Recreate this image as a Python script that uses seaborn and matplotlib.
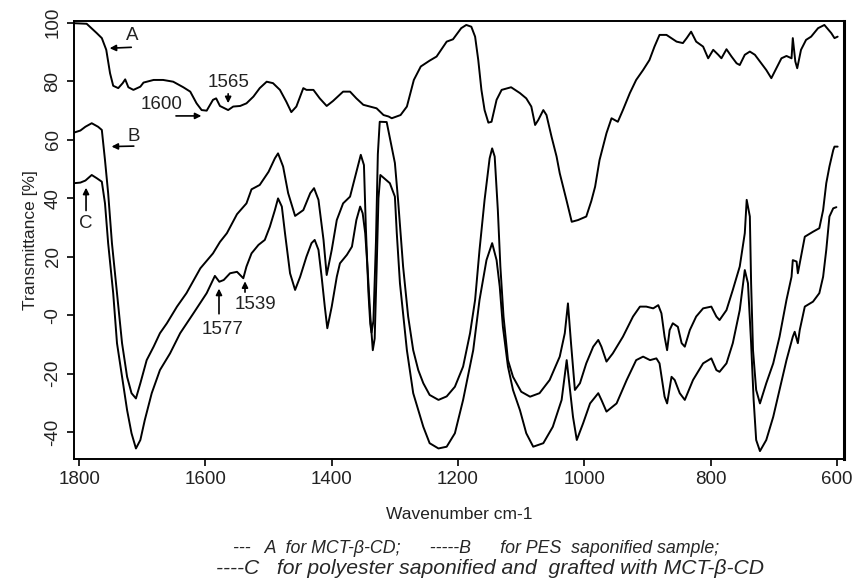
import matplotlib
matplotlib.use("Agg")
import matplotlib.pyplot as plt
from matplotlib import font_manager
import pandas as pd
import seaborn as sns

# --- spectrum A (MCT-beta-CD) ---
a_wn = [1808, 1788, 1772, 1764, 1757, 1751, 1746, 1738, 1731, 1727, 1722, 1714,
        1703, 1698, 1682, 1667, 1651, 1635, 1624, 1614, 1606, 1598, 1588, 1583,
        1577, 1564, 1556, 1545, 1535, 1524, 1514, 1503, 1493, 1482, 1472, 1464,
        1456, 1445, 1440, 1429, 1419, 1408, 1398, 1382, 1371, 1361, 1350, 1329,
        1318, 1310, 1305, 1291, 1281, 1270, 1259, 1245, 1234, 1218, 1208, 1195,
        1187, 1179, 1173, 1168, 1163, 1158, 1152, 1147, 1139, 1131, 1116, 1102,
        1092, 1084, 1078, 1073, 1065, 1060, 1052, 1044, 1039, 1028, 1020, 1010,
        997, 989, 983, 976, 965, 957, 947, 939, 928, 918, 907, 897, 889, 881,
        870, 854, 844, 838, 831, 823, 812, 804, 796, 788, 783, 775, 767, 759,
        754, 746, 738, 730, 722, 712, 704, 696, 688, 680, 672, 670, 666, 663,
        657, 649, 641, 630, 620, 609, 604, 599]
a_tr = [99.8, 99.6, 96.4, 94.7, 90.7, 82.7, 78.4, 77.6, 79.3, 80.6, 77.9, 77.0,
        78.1, 79.5, 80.4, 80.4, 79.8, 77.9, 76.4, 72.4, 70.1, 69.9, 73.6, 74.1,
        71.5, 70.1, 71.3, 71.5, 72.4, 74.7, 77.6, 79.8, 79.3, 77.0, 73.0, 69.4,
        71.3, 77.6, 77.0, 77.0, 74.1, 71.5, 73.2, 76.4, 76.4, 74.1, 71.9, 70.7,
        68.4, 67.9, 67.3, 68.4, 71.3, 80.4, 85.0, 87.0, 88.4, 93.5, 94.3, 98.1,
        99.2, 98.6, 95.2, 87.2, 77.0, 70.1, 65.8, 66.1, 73.6, 77.0, 77.9, 75.9,
        74.1, 71.3, 65.0, 66.7, 70.1, 68.4, 61.0, 54.2, 48.5, 39.0, 31.9, 32.5,
        33.7, 39.0, 43.9, 53.0, 62.2, 67.3, 66.1, 70.1, 75.9, 80.4, 83.8, 87.2,
        91.8, 95.8, 95.8, 93.5, 93.0, 94.7, 96.9, 93.5, 91.8, 87.8, 90.7, 89.0,
        87.8, 90.9, 88.4, 86.1, 85.5, 89.0, 90.1, 89.0, 86.7, 83.8, 81.0, 84.4,
        87.8, 88.6, 87.8, 94.7, 86.7, 84.4, 90.7, 94.1, 95.2, 98.1, 99.2, 96.4,
        94.7, 95.2]

# --- spectrum B (PES saponified) ---
b_wn = [1808, 1798, 1790, 1780, 1770, 1764, 1759, 1754, 1748, 1740, 1732, 1724,
        1717, 1710, 1703, 1693, 1682, 1672, 1661, 1645, 1630, 1608, 1588, 1577,
        1566, 1550, 1535, 1527, 1514, 1500, 1490, 1485, 1477, 1469, 1458, 1445,
        1434, 1428, 1421, 1413, 1408, 1400, 1392, 1382, 1371, 1363, 1354, 1349,
        1346, 1342, 1339, 1337, 1334, 1330, 1327, 1324, 1313, 1300, 1295, 1287,
        1279, 1271, 1263, 1255, 1245, 1231, 1218, 1205, 1192, 1181, 1173, 1166,
        1158, 1150, 1146, 1142, 1137, 1133, 1128, 1121, 1113, 1100, 1086, 1071,
        1055, 1039, 1031, 1026, 1021, 1015, 1007, 997, 986, 978, 973, 965, 955,
        939, 923, 912, 902, 891, 883, 878, 873, 869, 865, 860, 852, 846, 841,
        833, 823, 812, 799, 791, 786, 775, 765, 754, 746, 743, 738, 736, 733,
        728, 722, 712, 701, 691, 680, 672, 670, 664, 662, 659, 651, 638, 628,
        622, 617, 612, 606, 604, 599]
b_tr = [62.4, 63.1, 64.4, 65.6, 64.4, 63.3, 53.0, 41.7, 24.6, 7.5, -9.6, -21.1,
        -26.7, -28.5, -23.3, -15.4, -10.8, -6.2, -2.8, 2.9, 7.5, 16.0, 21.1, 25.0,
        28.0, 34.5, 38.2, 43.0, 44.5, 49.0, 53.6, 55.3, 50.8, 41.7, 33.9, 35.9,
        41.7, 43.4, 39.4, 25.7, 13.7, 22.3, 32.5, 38.2, 40.5, 47.3, 54.8, 51.3,
        30.0, 8.0, -3.0, -6.0, -2.0, 25.0, 55.0, 66.1, 66.0, 52.0, 39.4, 16.6,
        -0.5, -12.0, -18.8, -23.3, -27.3, -29.0, -27.8, -24.5, -17.6, -6.2, 5.2, 22.3,
        39.4, 53.6, 57.0, 54.2, 35.9, 16.6, -0.5, -15.4, -21.1, -26.2, -27.9, -26.7,
        -22.2, -14.2, -6.2, 4.0, -10.0, -25.6, -23.3, -16.5, -10.8, -8.5, -10.8, -15.9, -13.1,
        -7.4, -0.5, 2.9, 2.9, 2.3, 3.4, 0.6, -7.4, -12.0, -5.1, -2.8, -4.0, -9.6, -10.8,
        -5.1, -0.5, 2.3, 2.9, -0.5, -1.7, 1.7, 8.6, 16.6, 28.0, 39.4, 33.7, 10.9, -12.0,
        -25.6, -30.2, -23.3, -16.5, -7.4, 5.2, 13.1, 18.8, 18.3, 14.3, 17.7, 26.8, 28.5, 29.7,
        35.9, 45.1, 50.8, 56.4, 57.6, 57.6]

# --- spectrum C (polyester saponified and grafted) ---
c_wn = [1808, 1798, 1790, 1780, 1772, 1764, 1759, 1754, 1746, 1740, 1732, 1724,
        1717, 1710, 1703, 1696, 1685, 1672, 1656, 1640, 1619, 1598, 1585, 1578,
        1571, 1561, 1550, 1540, 1535, 1527, 1516, 1506, 1498, 1490, 1485, 1479,
        1474, 1466, 1458, 1450, 1440, 1432, 1427, 1421, 1416, 1411, 1407, 1400,
        1392, 1387, 1376, 1368, 1361, 1355, 1351, 1347, 1343, 1339, 1335, 1332,
        1329, 1326, 1323, 1308, 1300, 1297, 1292, 1281, 1271, 1255, 1245, 1231,
        1218, 1205, 1192, 1176, 1166, 1155, 1146, 1139, 1134, 1129, 1121, 1113,
        1102, 1092, 1081, 1065, 1050, 1036, 1028, 1018, 1012, 1002, 991, 978,
        973, 965, 949, 933, 918, 907, 896, 886, 881, 873, 869, 862, 857, 849,
        841, 828, 812, 799, 791, 786, 775, 765, 754, 746, 741, 736, 732, 728,
        722, 712, 701, 691, 680, 670, 667, 662, 659, 651, 638, 628, 622, 617,
        612, 606, 601]
c_tr = [45.1, 45.3, 46.0, 47.9, 46.8, 45.6, 38.2, 24.6, 7.5, -9.6, -21.1, -32.5,
        -40.4, -45.6, -42.7, -35.9, -26.7, -18.8, -13.1, -6.2, 0.6, 7.5, 13.4, 11.4,
        12.0, 14.3, 14.8, 12.6, 16.6, 21.1, 24.0, 25.7, 30.2, 35.9, 39.9, 37.1,
        28.0, 14.3, 8.6, 13.1, 20.0, 24.6, 25.7, 22.3, 13.1, 2.9, -4.5, 2.9,
        13.1, 17.7, 20.6, 23.4, 32.5, 37.1, 34.8, 28.0, 15.0, 0.0, -12.0, -8.0,
        15.0, 40.0, 47.9, 45.1, 40.5, 28.0, 10.9, -12.0, -26.7, -38.2, -43.8, -45.6,
        -45.0, -40.4, -29.0, -12.0, 5.2, 18.8, 24.6, 18.8, 9.7, -4.0, -17.6, -25.6,
        -32.5, -40.4, -45.0, -43.8, -38.2, -29.0, -15.4, -34.8, -42.7, -37.0, -30.2, -26.7,
        -29.0, -33.0, -30.2, -22.2, -15.4, -14.2, -15.4, -14.8, -16.5, -27.9, -30.2, -21.1,
        -22.2, -26.7, -29.0, -22.2, -16.5, -14.8, -18.8, -19.4, -16.5, -9.6, 1.7, 15.4,
        10.9, -9.6, -29.0, -42.7, -46.5, -42.7, -34.8, -25.6, -15.4, -7.4, -5.7, -9.6,
        -5.1, 2.9, 4.6, 7.5, 13.1, 22.3, 33.7, 36.5, 36.9]

y_ticks = [-40, -20, 0, 20, 40, 60, 80, 100]
y_tick_labels = ["-40", "-20", "-0", "20", "40", "60", "80", "100"]
x_ticks = [1800, 1600, 1400, 1200, 1000, 800, 600]

caption_1 = "---   A  for MCT-β-CD;      -----B      for PES  saponified sample;"
caption_2 = "----C   for polyester saponified and  grafted with MCT-β-CD"


def build_frame() -> pd.DataFrame:
    parts = []
    for name, wn, tr in [("A", a_wn, a_tr), ("B", b_wn, b_tr), ("C", c_wn, c_tr)]:
        parts.append(pd.DataFrame({"wavenumber": wn, "transmittance": tr, "sample": name}))
    return pd.concat(parts, ignore_index=True)


def plot_spectra(df: pd.DataFrame) -> None:
    sns.set_theme(style="ticks")
    plt.rcParams["font.family"] = ["Liberation Sans", "DejaVu Sans"]

    fig = plt.figure(figsize=(8.53, 5.81), dpi=100)
    ax = fig.add_axes([0.0868, 0.21, 0.9026, 0.7546])

    sns.lineplot(
        data=df, x="wavenumber", y="transmittance", units="sample",
        estimator=None, color="black", linewidth=1.4, ax=ax, legend=False,
    )

    ax.set_xlim(1808, 589)
    ax.set_ylim(-49.2, 100.7)
    ax.set_xticks(x_ticks)
    ax.set_xticklabels([str(t) for t in x_ticks])
    ax.set_yticks(y_ticks)
    ax.set_yticklabels(y_tick_labels, rotation=90, va="center")
    ax.tick_params(axis="both", labelsize=13.5, length=5, width=1.2, pad=4,
                   color="black", labelcolor="#222222", direction="out")

    for side in ["left", "bottom", "top", "right"]:
        ax.spines[side].set_visible(True)
        ax.spines[side].set_color("black")
        ax.spines[side].set_linewidth(1.4)
    ax.spines["right"].set_linewidth(2.2)

    ax.set_xlabel("Wavenumber cm-1", fontsize=12.5, labelpad=13, color="#222222")
    ax.set_ylabel("Transmittance [%]", fontsize=12.5, labelpad=5, color="#222222")

    arrow = dict(arrowstyle="-|>", color="black", lw=1.2, mutation_scale=9)
    note_size = 13.5

    # labels on the left side of the curves
    ax.text(1716, 95.6, "A", fontsize=note_size, ha="center", va="center", color="#222222")
    ax.annotate("", xy=(1756, 91.2), xytext=(1713, 91.6), arrowprops=arrow)
    ax.text(1714, 61.2, "B", fontsize=note_size, ha="center", va="center", color="#222222")
    ax.annotate("", xy=(1753, 57.6), xytext=(1709, 57.8), arrowprops=arrow)
    ax.text(1789, 31.4, "C", fontsize=note_size, ha="center", va="center", color="#222222")
    ax.annotate("", xy=(1789, 44.5), xytext=(1789, 34.8), arrowprops=arrow)

    # band positions
    ax.text(1669, 71.9, "1600", fontsize=note_size, ha="center", va="center", color="#222222")
    ax.annotate("", xy=(1602, 68.1), xytext=(1651, 68.1), arrowprops=arrow)
    ax.text(1564, 79.5, "1565", fontsize=note_size, ha="center", va="center", color="#222222")
    ax.annotate("", xy=(1564, 71.5), xytext=(1564, 76.6), arrowprops=arrow)
    ax.text(1573, -4.8, "1577", fontsize=note_size, ha="center", va="center", color="#222222")
    ax.annotate("", xy=(1578.5, 10.0), xytext=(1578.5, -0.5), arrowprops=arrow)
    ax.text(1521, 3.5, "1539", fontsize=note_size, ha="center", va="center", color="#222222")
    ax.annotate("", xy=(1537.3, 12.5), xytext=(1537.3, 6.9), arrowprops=arrow)

    names = set(font_manager.get_font_names())
    cap_family = "Liberation Sans Narrow" if "Liberation Sans Narrow" in names else "Liberation Sans"
    fig.text(0.558, 0.049, caption_1, fontsize=12.8, style="italic",
             family=cap_family, ha="center", va="baseline")
    fig.text(0.575, 0.0125, caption_2, fontsize=15.2, style="italic",
             family=cap_family, ha="center", va="baseline")

    fig.savefig("out.png", dpi=100)


if __name__ == "__main__":

    df = build_frame()

    plot_spectra(df)
